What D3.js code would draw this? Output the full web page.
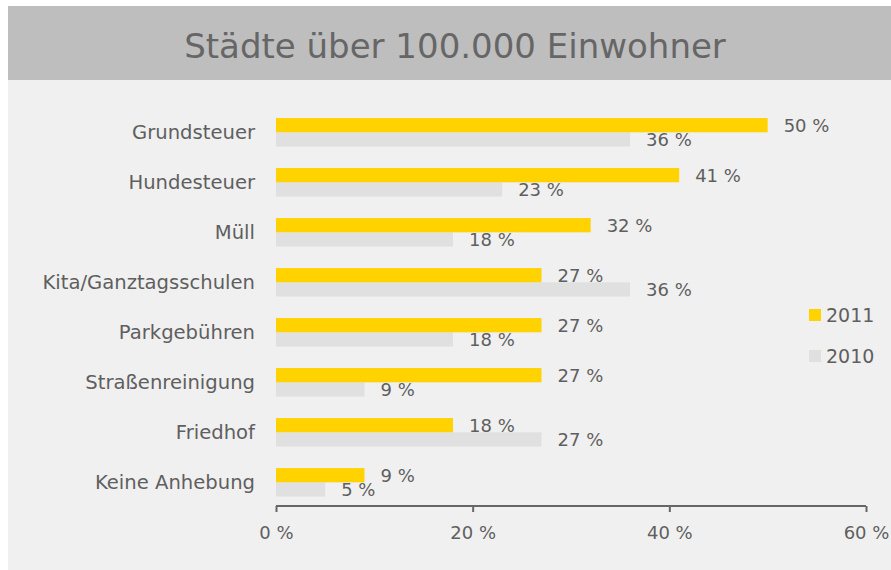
<!DOCTYPE html>
<html>
<head>
<meta charset="utf-8">
<script src="https://cdn.jsdelivr.net/npm/d3@7"></script>
<style>
  body { margin: 0; background: #fff; }
  svg text { font-family: "DejaVu Sans", sans-serif; fill: #5f5f5f; }
</style>
</head>
<body>
<svg id="chart" width="891" height="570"></svg>
<script>
// data
var categories = ["Grundsteuer", "Hundesteuer", "Müll", "Kita/Ganztagsschulen",
    "Parkgebühren", "Straßenreinigung", "Friedhof", "Keine Anhebung"];
var values2011 = [50, 41, 32, 27, 27, 27, 18, 9];
var values2010 = [36, 23, 18, 36, 18, 9, 27, 5];
var xTicks = [0, 20, 40, 60];
var seriesNames = ["2011", "2010"];
var colors = {"2011": "#ffd200", "2010": "#e0e0e0"};

var svg = d3.select("#chart");

// backgrounds
svg.append("rect").attr("x", 8).attr("y", 6).attr("width", 883).attr("height", 564).attr("fill", "#f0f0f0");
svg.append("rect").attr("x", 8).attr("y", 6).attr("width", 883).attr("height", 74).attr("fill", "#bebebe");

svg.append("text")
    .attr("x", 455).attr("y", 46)
    .attr("text-anchor", "middle").attr("dominant-baseline", "central")
    .style("font-size", "34px").style("fill", "#666")
    .text("Städte über 100.000 Einwohner");

var x = d3.scaleLinear().domain([0, 60]).range([276, 866]);
var y = d3.scaleBand().domain(categories).range([107.3, 507.3])
    .paddingInner(0.43).paddingOuter(0.215);
var barH = y.bandwidth() / 2;

var rows = categories.map(function(c, i) {
    return {cat: c, v11: values2011[i], v10: values2010[i]};
});

// gray bars first so labels overlap nicely
var g = svg.append("g");
g.selectAll("rect.b10").data(rows).join("rect")
    .attr("x", x(0)).attr("y", d => y(d.cat) + barH)
    .attr("width", d => x(d.v10) - x(0)).attr("height", barH)
    .attr("fill", colors["2010"]);
g.selectAll("rect.b11").data(rows).join("rect")
    .attr("x", x(0)).attr("y", d => y(d.cat))
    .attr("width", d => x(d.v11) - x(0)).attr("height", barH)
    .attr("fill", colors["2011"]);

// value labels
g.selectAll("text.l11").data(rows).join("text")
    .attr("x", d => x(d.v11) + 16).attr("y", d => y(d.cat) + barH / 2)
    .attr("dominant-baseline", "central").style("font-size", "18px")
    .text(d => d.v11 + " %");
g.selectAll("text.l10").data(rows).join("text")
    .attr("x", d => x(d.v10) + 16).attr("y", d => y(d.cat) + barH * 1.5)
    .attr("dominant-baseline", "central").style("font-size", "18px")
    .text(d => d.v10 + " %");

// category labels
g.selectAll("text.cat").data(rows).join("text")
    .attr("x", 255).attr("y", d => y(d.cat) + barH)
    .attr("text-anchor", "end").attr("dominant-baseline", "central")
    .style("font-size", "19.6px")
    .text(d => d.cat);

// x axis
var axis = svg.append("g").attr("transform", "translate(0,506)")
    .call(d3.axisBottom(x).tickValues(xTicks).tickSize(6).tickPadding(14)
        .tickFormat(d => d + " %"));
axis.select(".domain").attr("stroke", "#666").attr("stroke-width", 2).attr("d", "M" + x(0) + ",0H" + x(60));
axis.selectAll(".tick line").attr("stroke", "#666").attr("stroke-width", 2);
axis.selectAll(".tick text").style("font-size", "18px").style("font-family", "DejaVu Sans").attr("fill", "#5f5f5f");

// legend
var leg = svg.append("g");
seriesNames.forEach(function(s, i) {
    var ly = 315 + i * 41;
    leg.append("rect").attr("x", 809).attr("y", ly - 6).attr("width", 12).attr("height", 12).attr("fill", colors[s]);
    leg.append("text").attr("x", 826).attr("y", ly).attr("dominant-baseline", "central")
        .style("font-size", "19px").text(s);
});
</script>
</body>
</html>
